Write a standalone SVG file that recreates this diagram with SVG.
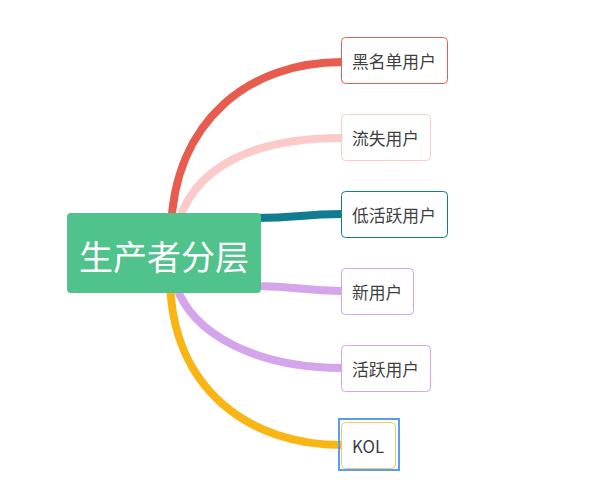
<svg xmlns="http://www.w3.org/2000/svg" width="593" height="500" viewBox="0 0 593 500">
<style>
.line{fill:none;stroke-width:8;stroke-linecap:butt}
.box{fill:#ffffff;stroke-width:1}
.lbl{font-family:"Noto Sans CJK SC","Noto Sans",sans-serif;font-size:16.8px;fill:#3f3f3f;dominant-baseline:central}
.root-lbl{font-family:"Noto Sans CJK SC","Noto Sans",sans-serif;font-size:34px;fill:#ffffff;text-anchor:middle;dominant-baseline:central}
</style>
<rect width="593" height="500" fill="#ffffff"/>
<g id="connectors">
<path class="line" stroke="#e85c4f" d="M171,230 C174,120 250,62 342,62"/>
<path class="line" stroke="#fdcaca" d="M176,230 C192,165 255,138 342,138"/>
<path class="line" stroke="#137d90" d="M255,218 C300,218 300,214 342,214"/>
<path class="line" stroke="#d4a5ea" d="M255,286 C300,286 300,291 342,291"/>
<path class="line" stroke="#d4a5ea" d="M176,285 C192,335 258,368 342,368"/>
<path class="line" stroke="#f9b514" d="M170,280 C172,390 250,445 342,445"/>
</g>
<g id="root">
<rect x="67" y="213" width="194" height="80" rx="4" fill="#50c28c"/>
<text class="root-lbl" x="164" y="255">生产者分层</text>
</g>
<g id="n1">
<rect class="box" x="341.5" y="37.5" width="106" height="46" rx="4" stroke="#e85c4f"/>
<text class="lbl" x="352" y="61">黑名单用户</text>
</g>
<g id="n2">
<rect class="box" x="341.5" y="114.5" width="89" height="46" rx="4" stroke="#fdcaca"/>
<text class="lbl" x="352" y="138">流失用户</text>
</g>
<g id="n3">
<rect class="box" x="341.5" y="191.5" width="106" height="46" rx="4" stroke="#137d90"/>
<text class="lbl" x="352" y="215">低活跃用户</text>
</g>
<g id="n4">
<rect class="box" x="341.5" y="268.5" width="72" height="46" rx="4" stroke="#d4a5ea"/>
<text class="lbl" x="352" y="292">新用户</text>
</g>
<g id="n5">
<rect class="box" x="341.5" y="345.5" width="89" height="46" rx="4" stroke="#d4a5ea"/>
<text class="lbl" x="352" y="369">活跃用户</text>
</g>
<g id="n6">
<rect x="339" y="419" width="60" height="51" fill="none" stroke="#5a9cf0" stroke-width="2"/>
<rect class="box" x="341.5" y="422.5" width="54" height="46" rx="4" stroke="#f2cc5c"/>
<text class="lbl" x="352" y="446">KOL</text>
</g>
</svg>
